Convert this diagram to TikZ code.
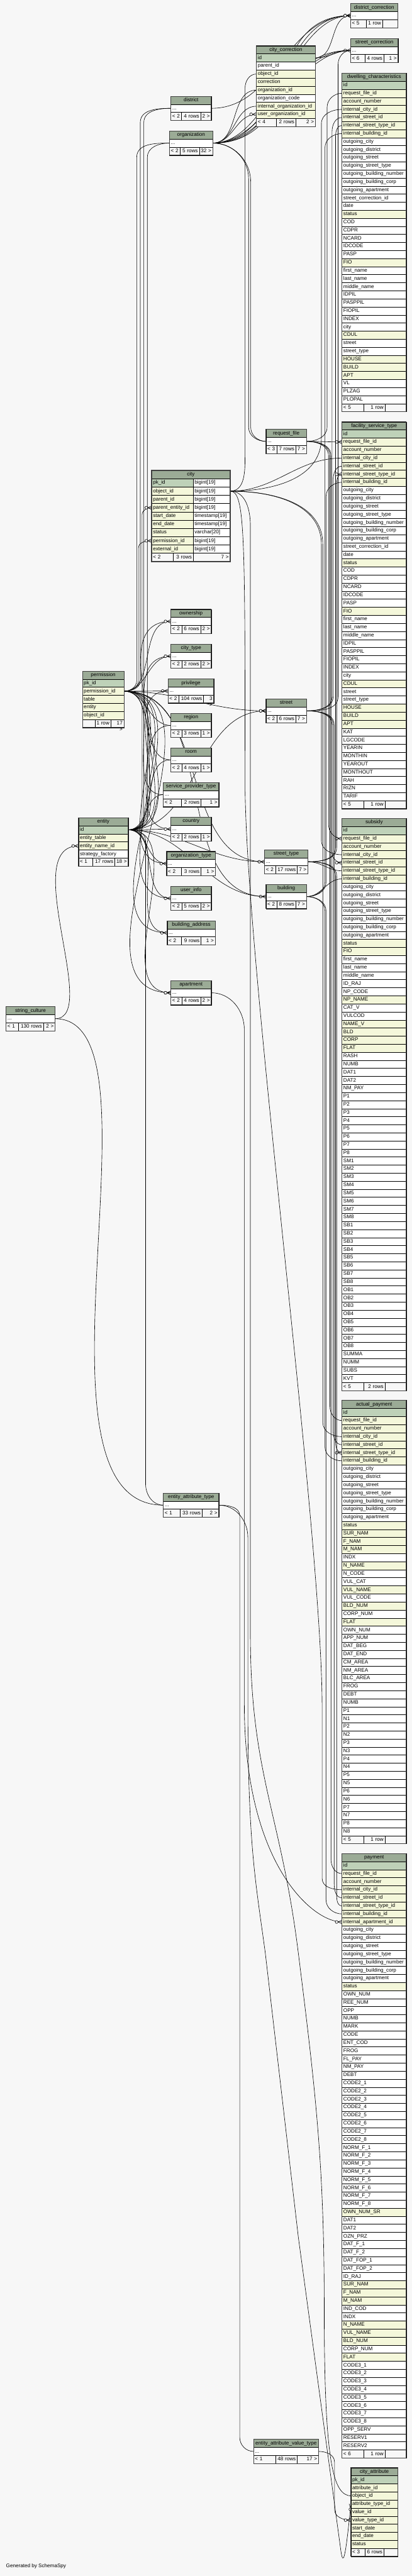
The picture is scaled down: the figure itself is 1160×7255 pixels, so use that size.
\documentclass[tikz,border=0pt]{standalone}
\usepackage{fontspec}
\setmainfont{Liberation Sans}
\usetikzlibrary{calc,decorations.markings,positioning}
\definecolor{bgc}{HTML}{F7F7F7}
\definecolor{headc}{HTML}{9BAB96}
\definecolor{keyc}{HTML}{BED1B8}
\definecolor{idxc}{HTML}{F4F7DA}
\pgfdeclarelayer{back}
\pgfdeclarelayer{wires}
\pgfsetlayers{back,wires,main}
\newcommand\rh{22.7}
\newcommand\dd{...}
\newcommand\fs{\fontsize{14.4}{17}\selectfont}
\tikzset{
  cell/.style={draw=black, line width=0.8pt, anchor=north west, inner xsep=4pt, inner ysep=0pt,
    outer sep=0pt, minimum height=\rh pt, text height=10.5pt, text depth=3pt, font=\fs},
  hd/.style={cell, fill=headc, align=center},
  pk/.style={cell, fill=keyc, align=left},
  ix/.style={cell, fill=idxc, align=left},
  pl/.style={cell, fill=white, align=left},
  ft/.style={cell, fill=bgc},
  frame/.style={draw=black!75, line width=1.6pt},
  fk/.style={draw=black, line width=1.1pt, postaction={decorate},
    decoration={markings, mark=at position 1 with {
      \draw[line width=1.1pt] (-11pt,0) -- (0,5pt) (-11pt,0) -- (0,-5pt);
      \draw[line width=1.1pt, fill=bgc] (-15pt,0) circle (4pt);}}}
}
% table: name, left, top, width, title, kind/column list
\newcommand\dbtable[6]{%
  \xdef\curname{#1}\xdef\curleft{#2}\xdef\curtop{#3}%
  \pgfmathsetmacro\tw{#4-8}\pgfmathsetmacro\tabr{#2+#4}\xdef\curright{\tabr}%
  \node[hd, text width=\tw pt] (#1) at (#2,#3) {#5};
  \foreach \kd/\nm [count=\i] in {#6}{%
    \node[\kd, text width=\tw pt] (#1-\i) at (#2,{#3+\i*\rh}) {\nm};
    \xdef\curn{\i}}%
}
\newcommand\dbsmall[5]{\dbtable{#1}{#2}{#3}{#4}{#5}{pl/\dd}}
% footer of the last table: divider 1, divider 2, left, middle, right text
\newcommand\dbfoot[5]{%
  \pgfmathsetmacro\fy{\curtop+(\curn+1)*\rh}%
  \pgfmathsetmacro\wa{#1-\curleft-8}\pgfmathsetmacro\wb{#2-#1-8}\pgfmathsetmacro\wc{\curright-#2-8}%
  \node[ft, text width=\wa pt, align=left] (\curname-fl) at (\curleft,\fy) {#3};
  \node[ft, text width=\wb pt, align=right] (\curname-fm) at (#1,\fy) {#4};
  \node[ft, text width=\wc pt, align=right] (\curname-fr) at (#2,\fy) {#5};
  \draw[frame] (\curname.north west) rectangle (\curname-fr.south east);
}
% connectors: parent, child, bundle x, corner sizes
\newcommand\fkup[5]{\draw[fk] let \p1=(#1), \p2=(#2) in (\p1) to[out=0,in=-90] (#3pt,\y1+#4pt) -- (#3pt,\y2-#5pt) to[out=90,in=180] (\p2);}
\newcommand\fkdn[5]{\draw[fk] let \p1=(#1), \p2=(#2) in (\p1) to[out=0,in=90] (#3pt,\y1-#4pt) -- (#3pt,\y2+#5pt) to[out=-90,in=180] (\p2);}
\newcommand\fkto[3][1]{\draw[fk] (#2) to[out=0,in=180,looseness=#1] (#3);}

\begin{document}
\begin{tikzpicture}[x=1pt, y=-1pt]
  \useasboundingbox (0,0) rectangle (1160,7255);
  \begin{pgfonlayer}{back}
    \fill[bgc] (0,0) rectangle (1160,7255);
  \end{pgfonlayer}

  % corrections
  \dbsmall{dc}{987}{10}{133}{district\_correction} \dbfoot{1032}{1077}{< 5}{1 row}{}
  \dbsmall{sc}{987}{108}{134}{street\_correction} \dbfoot{1028}{1081}{< 6}{4 rows}{1 >}
  \dbtable{cc}{722}{129}{166}{city\_correction}{pk/id, pl/parent\_id, ix/object\_id, ix/correction,
    ix/organization\_id, pl/organization\_code, ix/internal\_organization\_id, ix/user\_organization\_id}
  \dbfoot{778}{833}{< 4}{2 rows}{2 >}

  \dbsmall{dis}{481}{271}{114}{district} \dbfoot{511}{565}{< 2}{4 rows}{2 >}
  \dbsmall{org}{477}{369}{122}{organization} \dbfoot{507}{561}{< 2}{5 rows}{32 >}

  % city, the focused table
  \begin{scope}
    \def\rh{23.3}
    \node[hd, text width=213pt] (city) at (427,1325) {city};
    \foreach \kd/\nm/\ty [count=\i] in {pk/pk\_id/bigint[19], ix/object\_id/bigint[19], ix/parent\_id/bigint[19],
      ix/parent\_entity\_id/bigint[19], ix/start\_date/timestamp[19], ix/end\_date/timestamp[19],
      ix/status/varchar[20], ix/permission\_id/bigint[19], ix/external\_id/bigint[19]}{
      \node[\kd, text width=109pt] (city-\i) at (427,{1325+\i*\rh}) {\nm};
      \node[pl, text width=96pt] (city-t\i) at (544,{1325+\i*\rh}) {\ty};}
    \node[ft, text width=53pt, align=left] (city-fl) at (427,{1325+10*\rh}) {< 2};
    \node[ft, text width=48pt, align=right] (city-fm) at (488,{1325+10*\rh}) {3 rows};
    \node[ft, text width=96pt, align=right] (city-fr) at (544,{1325+10*\rh}) {7 >};
    \draw[frame, line width=3pt] (city.north west) rectangle (city-fr.south east);
  \end{scope}

  \dbsmall{rf}{749}{1209}{114}{request\_file} \dbfoot{780}{833}{< 3}{7 rows}{7 >}
  \dbsmall{st}{749}{1968}{114}{street} \dbfoot{780}{833}{< 2}{6 rows}{7 >}
  \dbsmall{stt}{745}{2393}{122}{street\_type} \dbfoot{776}{837}{< 2}{17 rows}{7 >}
  \dbsmall{bld}{749}{2491}{114}{building} \dbfoot{780}{833}{< 2}{8 rows}{7 >}

  \dbtable{perm}{232}{1890}{117}{permission}{pk/pk\_id, ix/permission\_id, ix/table, ix/entity, ix/object\_id}
  \dbfoot{267}{312}{}{1 row}{17 >}
  \dbtable{ent}{221}{2303}{140}{entity}{pk/id, ix/entity\_table, ix/entity\_name\_id, pl/strategy\_factory}
  \dbfoot{261}{323}{< 1}{17 rows}{18 >}
  \dbsmall{strc}{17}{2835}{138}{string\_culture} \dbfoot{51}{122}{< 1}{130 rows}{2 >}

  \dbsmall{own}{481}{1716}{114}{ownership} \dbfoot{512}{565}{< 2}{6 rows}{2 >}
  \dbsmall{cty}{481}{1814}{114}{city\_type} \dbfoot{512}{565}{< 2}{2 rows}{2 >}
  \dbsmall{priv}{473}{1912}{129}{privilege} \dbfoot{504}{573}{< 2}{104 rows}{3 >}
  \dbsmall{reg}{481}{2009}{114}{region} \dbfoot{512}{565}{< 2}{3 rows}{1 >}
  \dbsmall{room}{481}{2106}{114}{room} \dbfoot{512}{565}{< 2}{4 rows}{1 >}
  \dbsmall{spt}{460}{2204}{156}{service\_provider\_type} \dbfoot{511}{566}{< 2}{2 rows}{1 >}
  \dbsmall{ctry}{481}{2301}{114}{country} \dbfoot{512}{565}{< 2}{2 rows}{1 >}
  \dbsmall{ot}{469}{2398}{138}{organization\_type} \dbfoot{511}{566}{< 2}{3 rows}{1 >}
  \dbsmall{ui}{481}{2496}{114}{user\_info} \dbfoot{512}{565}{< 2}{5 rows}{2 >}
  \dbsmall{ba}{471}{2593}{135}{building\_address} \dbfoot{511}{566}{< 2}{9 rows}{1 >}
  \dbsmall{apt}{481}{2762}{114}{apartment} \dbfoot{512}{565}{< 2}{4 rows}{2 >}

  \dbsmall{eat}{460}{4205}{156}{entity\_attribute\_type} \dbfoot{507}{569}{< 1}{33 rows}{2 >}
  \dbsmall{eavt}{714}{6870}{183}{entity\_attribute\_value\_type} \dbfoot{776}{837}{< 1}{48 rows}{17 >}
  \dbtable{cat}{988}{6950}{132}{city\_attribute}{pk/pk\_id, ix/attribute\_id, ix/object\_id, ix/attribute\_type\_id,
    ix/value\_id, ix/value\_type\_id, ix/start\_date, ix/end\_date, ix/status}
  \dbfoot{1028}{1081}{< 3}{6 rows}{}

  % the wide tables
  \dbtable{dwc}{963}{206}{181}{dwelling\_characteristics}{pk/id, ix/request\_file\_id, ix/account\_number,
    ix/internal\_city\_id, ix/internal\_street\_id, ix/internal\_street\_type\_id, ix/internal\_building\_id,
    pl/outgoing\_city, pl/outgoing\_district, pl/outgoing\_street, pl/outgoing\_street\_type,
    pl/outgoing\_building\_number, pl/outgoing\_building\_corp, pl/outgoing\_apartment, pl/street\_correction\_id,
    pl/date, ix/status, pl/COD, pl/CDPR, pl/NCARD, pl/IDCODE, pl/PASP, ix/FIO, pl/first\_name, pl/last\_name,
    pl/middle\_name, pl/IDPIL, pl/PASPPIL, pl/FIOPIL, pl/INDEX, pl/city, ix/CDUL, pl/street, pl/street\_type,
    ix/HOUSE, ix/BUILD, ix/APT, pl/VL, pl/PLZAG, pl/PLOPAL}
  \dbfoot{1024}{1084}{< 5}{1 row}{}
  \dbtable{fst}{963}{1188}{181}{facility\_service\_type}{pk/id, ix/request\_file\_id, ix/account\_number,
    ix/internal\_city\_id, ix/internal\_street\_id, ix/internal\_street\_type\_id, ix/internal\_building\_id,
    pl/outgoing\_city, pl/outgoing\_district, pl/outgoing\_street, pl/outgoing\_street\_type,
    pl/outgoing\_building\_number, pl/outgoing\_building\_corp, pl/outgoing\_apartment, pl/street\_correction\_id,
    pl/date, ix/status, pl/COD, pl/CDPR, pl/NCARD, pl/IDCODE, pl/PASP, ix/FIO, pl/first\_name, pl/last\_name,
    pl/middle\_name, pl/IDPIL, pl/PASPPIL, pl/FIOPIL, pl/INDEX, pl/city, ix/CDUL, pl/street, pl/street\_type,
    ix/HOUSE, ix/BUILD, ix/APT, pl/KAT, pl/LGCODE, pl/YEARIN, pl/MONTHIN, pl/YEAROUT, pl/MONTHOUT,
    pl/RAH, pl/RIZN, pl/TARIF}
  \dbfoot{1024}{1084}{< 5}{1 row}{}
  \dbtable{sub}{963}{2305}{181}{subsidy}{pk/id, ix/request\_file\_id, ix/account\_number,
    ix/internal\_city\_id, ix/internal\_street\_id, ix/internal\_street\_type\_id, ix/internal\_building\_id,
    pl/outgoing\_city, pl/outgoing\_district, pl/outgoing\_street, pl/outgoing\_street\_type,
    pl/outgoing\_building\_number, pl/outgoing\_building\_corp, pl/outgoing\_apartment, ix/status, ix/FIO,
    pl/first\_name, pl/last\_name, pl/middle\_name, pl/ID\_RAJ, pl/NP\_CODE, ix/NP\_NAME, pl/CAT\_V, pl/VULCOD,
    ix/NAME\_V, ix/BLD, ix/CORP, ix/FLAT, pl/RASH, pl/NUMB, pl/DAT1, pl/DAT2, pl/NM\_PAY,
    pl/P1, pl/P2, pl/P3, pl/P4, pl/P5, pl/P6, pl/P7, pl/P8,
    pl/SM1, pl/SM2, pl/SM3, pl/SM4, pl/SM5, pl/SM6, pl/SM7, pl/SM8,
    pl/SB1, pl/SB2, pl/SB3, pl/SB4, pl/SB5, pl/SB6, pl/SB7, pl/SB8,
    pl/OB1, pl/OB2, pl/OB3, pl/OB4, pl/OB5, pl/OB6, pl/OB7, pl/OB8,
    pl/SUMMA, pl/NUMM, pl/SUBS, pl/KVT}
  \dbfoot{1024}{1084}{< 5}{2 rows}{}
  \dbtable{act}{963}{3944}{181}{actual\_payment}{pk/id, ix/request\_file\_id, ix/account\_number,
    ix/internal\_city\_id, ix/internal\_street\_id, ix/internal\_street\_type\_id, ix/internal\_building\_id,
    pl/outgoing\_city, pl/outgoing\_district, pl/outgoing\_street, pl/outgoing\_street\_type,
    pl/outgoing\_building\_number, pl/outgoing\_building\_corp, pl/outgoing\_apartment, ix/status,
    ix/SUR\_NAM, ix/F\_NAM, ix/M\_NAM, pl/INDX, ix/N\_NAME, pl/N\_CODE, pl/VUL\_CAT, ix/VUL\_NAME, pl/VUL\_CODE,
    ix/BLD\_NUM, pl/CORP\_NUM, ix/FLAT, pl/OWN\_NUM, pl/APP\_NUM, pl/DAT\_BEG, pl/DAT\_END, pl/CM\_AREA,
    pl/NM\_AREA, pl/BLC\_AREA, pl/FROG, pl/DEBT, pl/NUMB,
    pl/P1, pl/N1, pl/P2, pl/N2, pl/P3, pl/N3, pl/P4, pl/N4, pl/P5, pl/N5, pl/P6, pl/N6, pl/P7, pl/N7, pl/P8, pl/N8}
  \dbfoot{1024}{1084}{< 5}{1 row}{}
  \dbtable{pay}{963}{5220}{181}{payment}{pk/id, ix/request\_file\_id, ix/account\_number,
    ix/internal\_city\_id, ix/internal\_street\_id, ix/internal\_street\_type\_id, ix/internal\_building\_id,
    ix/internal\_apartment\_id, pl/outgoing\_city, pl/outgoing\_district, pl/outgoing\_street,
    pl/outgoing\_street\_type, pl/outgoing\_building\_number, pl/outgoing\_building\_corp, pl/outgoing\_apartment,
    ix/status, pl/OWN\_NUM, pl/REE\_NUM, pl/OPP, pl/NUMB, pl/MARK, pl/CODE, pl/ENT\_COD, pl/FROG, pl/FL\_PAY,
    pl/NM\_PAY, pl/DEBT,
    pl/CODE2\_1, pl/CODE2\_2, pl/CODE2\_3, pl/CODE2\_4, pl/CODE2\_5, pl/CODE2\_6, pl/CODE2\_7, pl/CODE2\_8,
    pl/NORM\_F\_1, pl/NORM\_F\_2, pl/NORM\_F\_3, pl/NORM\_F\_4, pl/NORM\_F\_5, pl/NORM\_F\_6, pl/NORM\_F\_7, pl/NORM\_F\_8,
    ix/OWN\_NUM\_SR, pl/DAT1, pl/DAT2, pl/OZN\_PRZ, pl/DAT\_F\_1, pl/DAT\_F\_2, pl/DAT\_FOP\_1, pl/DAT\_FOP\_2,
    pl/ID\_RAJ, ix/SUR\_NAM, ix/F\_NAM, ix/M\_NAM, pl/IND\_COD, pl/INDX, ix/N\_NAME, ix/VUL\_NAME, ix/BLD\_NUM,
    pl/CORP\_NUM, ix/FLAT,
    pl/CODE3\_1, pl/CODE3\_2, pl/CODE3\_3, pl/CODE3\_4, pl/CODE3\_5, pl/CODE3\_6, pl/CODE3\_7, pl/CODE3\_8,
    pl/OPP\_SERV, pl/RESERV1, pl/RESERV2}
  \dbfoot{1024}{1084}{< 6}{1 row}{}

  \node[anchor=west, font=\fs, inner sep=0pt] (gen) at (17,7228) {Generated by SchemaSpy};

  \begin{pgfonlayer}{wires}
    % into the wide tables
    \fkup{rf-1.east}{dwc-2.west}{921}{40}{40}
    \fkto{rf-1.east}{fst-2.west}
    \fkdn{rf-1.east}{sub-2.west}{925}{40}{40}
    \fkdn{rf-1.east}{act-2.west}{929}{40}{40}
    \fkdn{rf-1.east}{pay-2.west}{932}{40}{40}
    \fkup{city-t2.east}{dwc-4.west}{905}{150}{40}
    \fkto{city-t2.east}{fst-4.west}
    \fkdn{city-t2.east}{sub-4.west}{905}{150}{40}
    \fkdn{city-t2.east}{act-4.west}{909}{150}{40}
    \draw[fk] (city-t2.east) .. controls (690,1383) and (690,1500) .. (690,2200)
      .. controls (690,2700) and (905,4300) .. (907,4800) -- (907,5290) to[out=-90,in=180] (pay-4.west);
    \fkup{st-1.east}{dwc-5.west}{935}{40}{40}
    \fkup{st-1.east}{fst-5.west}{938}{40}{40}
    \fkdn{st-1.east}{sub-5.west}{935}{40}{30}
    \fkdn{st-1.east}{act-5.west}{938}{40}{40}
    \fkdn{st-1.east}{pay-5.west}{941}{40}{40}
    \fkup{stt-1.east}{dwc-6.west}{945}{40}{30}
    \fkup{stt-1.east}{fst-6.west}{948}{40}{30}
    \fkto{stt-1.east}{sub-6.west}
    \fkdn{stt-1.east}{act-6.west}{945}{40}{30}
    \fkdn{stt-1.east}{pay-6.west}{948}{40}{30}
    \fkup{bld-1.east}{dwc-7.west}{915}{40}{40}
    \fkup{bld-1.east}{fst-7.west}{918}{40}{40}
    \fkto{bld-1.east}{sub-7.west}
    \fkdn{bld-1.east}{act-7.west}{915}{40}{40}
    \fkdn{bld-1.east}{pay-7.west}{918}{40}{40}
    \draw[fk] (apt-1.east) to[out=0,in=90] (688,2900) -- (688,4800) .. controls (688,5250) and (880,5413) .. (pay-8.west);
    % corrections
    \fkup{city-t2.east}{cc-3.west}{690}{100}{40}
    \fkto{org-1.east}{cc-5.west}
    \fkto{org-1.east}{cc-7.west}
    \fkto{org-1.east}{cc-8.west}
    \fkto{cc-1.east}{dc-1.west}
    \fkto{cc-1.east}{sc-1.west}
    \fkto{dis-1.east}{dc-1.west}
    \fkto[0.8]{org-1.east}{dc-1.west}
    \fkto[1]{org-1.east}{dc-1.west}
    \fkto[1.2]{org-1.east}{dc-1.west}
    \fkto[0.8]{org-1.east}{sc-1.west}
    \fkto[1]{org-1.east}{sc-1.west}
    \fkto[1.2]{org-1.east}{sc-1.west}
    \fkup{st-1.east}{sc-1.west}{952}{40}{40}
    \fkdn{org-1.east}{rf-1.west}{700}{100}{40}
    \fkdn{org-1.east}{rf-1.west}{706}{110}{40}
    % permission and entity
    \fkup{perm-2.east}{dis-1.west}{395}{30}{40}
    \fkup{ent-1.east}{dis-1.west}{405}{30}{40}
    \fkup{perm-2.east}{org-1.west}{385}{30}{40}
    \fkup{ent-1.east}{org-1.west}{415}{30}{40}
    \fkup{ent-1.east}{city-4.west}{400}{30}{20}
    \fkup{perm-2.east}{city-8.west}{390}{30}{20}
    \foreach \tb in {own,cty,priv,reg,room,spt,ctry,ot,ui,ba,apt,st,stt,bld}{
      \fkto{perm-2.east}{\tb-1.west}
      \fkto{ent-1.east}{\tb-1.west}}
    \draw[fk] (strc-1.east) .. controls +(130,0) and +(-170,0) .. (ent-3.west);
    \draw[fk] (strc-1.east) .. controls +(330,0) and +(-420,0) .. (eat-1.west);
    \fkdn{ent-1.east}{eat-1.west}{410}{30}{60}
    % attributes
    \fkdn{eat-1.east}{eavt-1.west}{675}{30}{40}
    \draw[fk] (eat-1.east) to[out=0,in=90] (698,4330) -- (698,4800) .. controls (698,5200) and (720,5300) .. (747,5500)
      -- (840,6300) -- (960,7185) .. controls (966,7225) and (972,7215) .. (cat-4.west);
    \fkdn{eavt-1.east}{cat-6.west}{942}{30}{30}
    \draw[fk] (city-t2.east) to[out=0,in=90] (705,1480) -- (705,4600) .. controls (705,5000) and (790,5100) .. (840,5500)
      .. controls (890,5900) and (913,6100) .. (913,6500) .. controls (913,6950) and (940,7026) .. (cat-3.west);
  \end{pgfonlayer}
\end{tikzpicture}
\end{document}
